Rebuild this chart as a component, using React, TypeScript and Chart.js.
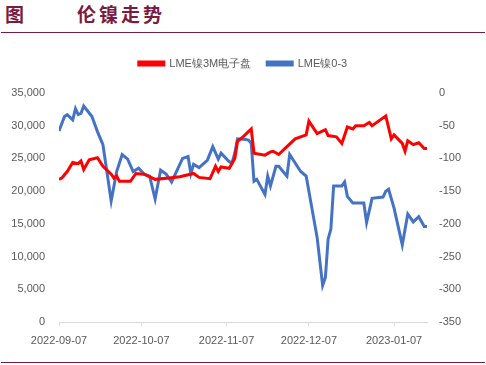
import React, { useEffect, useRef } from "react";
import { Chart, registerables } from "chart.js";

Chart.register(...registerables);

const startDate = "2022-09-07";

const tickDates = ["2022-09-07", "2022-10-07", "2022-11-07", "2022-12-07", "2023-01-07"];

const redDates = [
  "2022-09-07", "2022-09-08", "2022-09-10", "2022-09-12", "2022-09-14", "2022-09-15", "2022-09-16",
  "2022-09-18", "2022-09-21", "2022-09-23", "2022-09-26", "2022-09-27", "2022-09-28", "2022-09-29",
  "2022-10-03", "2022-10-05", "2022-10-08", "2022-10-12", "2022-10-17", "2022-10-21", "2022-10-26",
  "2022-10-28", "2022-11-01", "2022-11-03", "2022-11-04", "2022-11-05", "2022-11-08", "2022-11-10",
  "2022-11-11", "2022-11-13", "2022-11-16", "2022-11-17", "2022-11-21", "2022-11-23", "2022-11-24",
  "2022-11-26", "2022-11-29", "2022-12-02", "2022-12-06", "2022-12-07", "2022-12-10", "2022-12-13",
  "2022-12-14", "2022-12-17", "2022-12-19", "2022-12-21", "2022-12-23", "2022-12-24", "2022-12-27",
  "2022-12-29", "2022-12-30", "2023-01-04", "2023-01-06", "2023-01-07", "2023-01-10", "2023-01-11",
  "2023-01-12", "2023-01-14", "2023-01-16", "2023-01-18", "2023-01-19",
];

const redValues = [
  21800, 22000, 23000, 24400, 24200, 24600, 23300,
  24800, 25100, 23800, 22600, 22000, 22300, 21500,
  21500, 22700, 22600, 21800, 22000, 22200, 22700,
  22100, 21900, 23800, 23000, 23700, 23500, 25000,
  27600, 28300, 29500, 25800, 25500, 26000, 26100,
  25600, 26800, 28000, 28600, 30700, 28800, 29400,
  28500, 28300, 27300, 29800, 29500, 30000, 30000,
  30500, 30000, 31500, 28000, 28600, 27300, 26100,
  27700, 27100, 27400, 26500, 26500,
];

const blueDates = [
  "2022-09-07", "2022-09-09", "2022-09-10", "2022-09-12", "2022-09-13", "2022-09-14", "2022-09-15",
  "2022-09-16", "2022-09-19", "2022-09-21", "2022-09-23", "2022-09-26", "2022-09-28", "2022-09-30",
  "2022-10-02", "2022-10-04", "2022-10-06", "2022-10-08", "2022-10-10", "2022-10-12", "2022-10-14",
  "2022-10-16", "2022-10-18", "2022-10-22", "2022-10-24", "2022-10-25", "2022-10-26", "2022-10-28",
  "2022-10-31", "2022-11-02", "2022-11-04", "2022-11-05", "2022-11-08", "2022-11-09", "2022-11-10",
  "2022-11-11", "2022-11-14", "2022-11-15", "2022-11-16", "2022-11-17", "2022-11-18", "2022-11-21",
  "2022-11-22", "2022-11-23", "2022-11-25", "2022-11-26", "2022-11-29", "2022-11-30", "2022-12-02",
  "2022-12-04", "2022-12-06", "2022-12-10", "2022-12-12", "2022-12-13", "2022-12-14", "2022-12-15",
  "2022-12-16", "2022-12-19", "2022-12-20", "2022-12-21", "2022-12-23", "2022-12-27", "2022-12-28",
  "2022-12-30", "2023-01-03", "2023-01-04", "2023-01-05", "2023-01-07", "2023-01-10", "2023-01-12",
  "2023-01-14", "2023-01-16", "2023-01-18", "2023-01-19",
];

const blueValues = [
  -58, -36, -33, -41, -24, -33, -31,
  -20, -36, -59, -79, -165, -120, -94,
  -101, -120, -115, -124, -127, -162, -118,
  -124, -136, -100, -97, -123, -109, -114,
  -103, -82, -101, -92, -105, -107, -92,
  -70, -71, -72, -77, -135, -132, -155,
  -127, -142, -112, -112, -127, -94, -107,
  -120, -127, -221, -294, -282, -223, -208,
  -142, -142, -136, -158, -168, -168, -198,
  -161, -159, -150, -147, -176, -232, -185,
  -197, -189, -204, -204,
];

const DAY = 86400000;
const dayOffset = (d: string) => (Date.parse(d) - Date.parse(startDate)) / DAY;

const TEXT = "#595959";
const FONT = "'Liberation Sans', Arial, sans-serif";
const MAROON = "#7a1c42";

const legendSpacer = {
  id: "legendSpacer",
  beforeLayout(chart: any) {
    const lg = chart.legend;
    if (lg && !lg._spaced) {
      const orig = lg.fit.bind(lg);
      lg.fit = function () {
        orig();
        this.height += 14;
      };
      lg._spaced = true;
    }
  },
};

export default function App() {
  const ref = useRef<HTMLCanvasElement | null>(null);

  useEffect(() => {
    if (!ref.current) return;
    const tickVals = tickDates.map(dayOffset);
    const chart = new Chart(ref.current, {
      type: "line",
      plugins: [legendSpacer],
      data: {
        datasets: [
          {
            label: "LME镍3M电子盘",
            data: redDates.map((d, i) => ({ x: dayOffset(d), y: redValues[i] })),
            borderColor: "#ff0000",
            backgroundColor: "#ff0000",
            borderWidth: 3,
            pointRadius: 0,
            tension: 0,
            yAxisID: "y",
          },
          {
            label: "LME镍0-3",
            data: blueDates.map((d, i) => ({ x: dayOffset(d), y: blueValues[i] })),
            borderColor: "#4472c4",
            backgroundColor: "#4472c4",
            borderWidth: 3,
            pointRadius: 0,
            tension: 0,
            yAxisID: "y1",
          },
        ],
      },
      options: {
        animation: false,
        responsive: false,
        maintainAspectRatio: false,
        layout: { padding: { top: 42, left: 0, right: 0, bottom: 0 } },
        plugins: {
          legend: {
            position: "top",
            labels: {
              color: TEXT,
              font: { family: FONT, size: 11 },
              boxWidth: 25,
              boxHeight: 3,
              padding: 16,
            },
          },
          tooltip: { enabled: false },
        },
        scales: {
          x: {
            type: "linear",
            min: 0,
            max: dayOffset("2023-01-19"),
            afterBuildTicks: (scale: any) => {
              scale.ticks = tickVals.map((v) => ({ value: v }));
            },
            afterFit: (scale: any) => {
              scale.height = 43;
            },
            ticks: {
              autoSkip: false,
              maxRotation: 0,
              color: TEXT,
              font: { family: FONT, size: 11 },
              padding: 8,
              callback: (v: any) => {
                const i = tickVals.indexOf(Number(v));
                return i >= 0 ? tickDates[i] : "";
              },
            },
            grid: { display: true, drawOnChartArea: false, drawTicks: true, tickLength: 4, color: "#d9d9d9" },
            border: { display: true, color: "#d9d9d9", width: 1 },
          },
          y: {
            position: "left",
            min: 0,
            max: 35000,
            afterFit: (scale: any) => {
              scale.width = 59;
            },
            ticks: {
              stepSize: 5000,
              color: TEXT,
              font: { family: FONT, size: 11 },
              padding: 14,
              callback: (v: any) => Number(v).toLocaleString("en-US"),
            },
            grid: { display: false, drawTicks: false },
            border: { display: false },
          },
          y1: {
            position: "right",
            min: -350,
            max: 0,
            afterFit: (scale: any) => {
              scale.width = 59;
            },
            ticks: {
              stepSize: 50,
              color: TEXT,
              font: { family: FONT, size: 11 },
              padding: 12,
            },
            grid: { display: false, drawTicks: false },
            border: { display: false },
          },
        },
      },
    });
    return () => chart.destroy();
  }, []);

  return (
    <div style={{ position: "fixed", left: 0, top: 0, width: 486, height: 365, background: "#fff", overflow: "hidden" }}>
      <div
        style={{
          position: "absolute",
          left: 5,
          top: 2,
          fontFamily: "'Noto Sans CJK SC', sans-serif",
          fontWeight: 700,
          fontSize: 19,
          lineHeight: "24px",
          color: MAROON,
          whiteSpace: "pre",
        }}
      >
        <span>图</span>
        <span style={{ position: "absolute", left: 72, letterSpacing: 3 }}>伦镍走势</span>
      </div>
      <div style={{ position: "absolute", left: 1, top: 32, width: 484, height: 1, background: MAROON }} />
      <canvas ref={ref} width={486} height={365} style={{ position: "absolute", left: 0, top: 0, width: 486, height: 365 }} />
      <div style={{ position: "absolute", left: 1, top: 362, width: 484, height: 1, background: MAROON }} />
    </div>
  );
}
